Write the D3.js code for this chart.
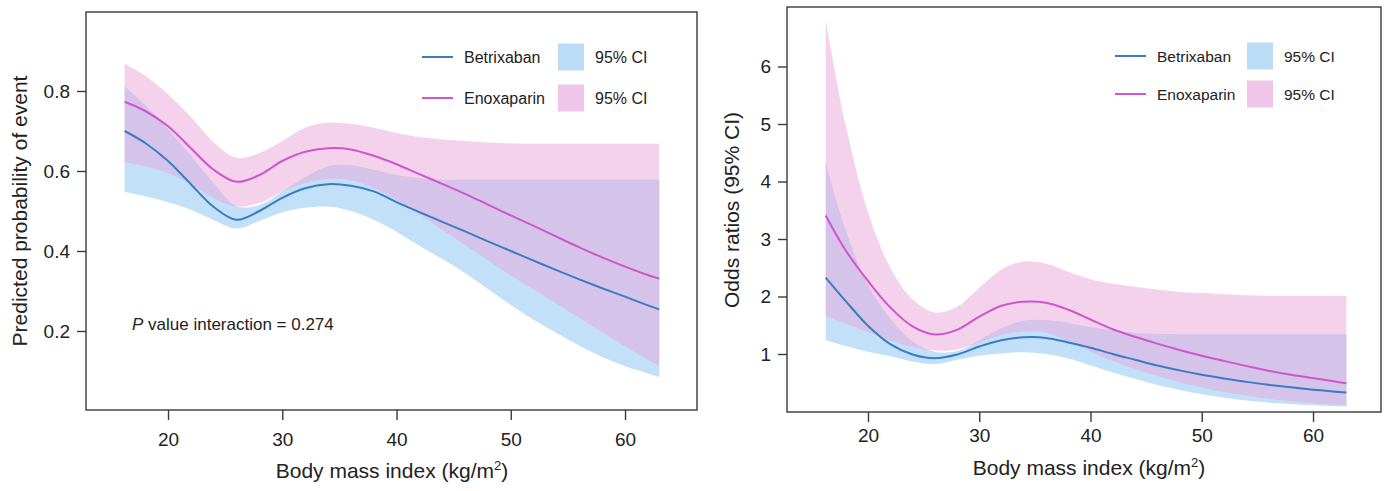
<!DOCTYPE html>
<html>
<head>
<meta charset="utf-8">
<script src="https://cdn.jsdelivr.net/npm/d3@7"></script>
<style>
  html, body { margin: 0; padding: 0; background: #fff; }
  svg { display: block; font-family: "Liberation Sans", Arial, Helvetica, sans-serif; }
</style>
</head>
<body>
<svg id="chart" width="1388" height="491"></svg>
<script>
// ---------- data ----------
const bmi = [16.2, 18, 20, 22, 24, 26, 28, 30, 32, 34, 36, 38, 40, 42, 44, 46, 48, 50, 52, 54, 56, 58, 60, 62, 63];

// Left panel: predicted probability of event
const probBetrixaban   = [0.700,0.670,0.625,0.567,0.510,0.478,0.500,0.533,0.557,0.567,0.563,0.549,0.522,0.497,0.473,0.449,0.424,0.400,0.376,0.352,0.329,0.307,0.286,0.264,0.254];
const probBetrixabanLo = [0.548,0.537,0.522,0.503,0.477,0.456,0.475,0.497,0.508,0.511,0.500,0.478,0.448,0.413,0.380,0.345,0.305,0.265,0.228,0.195,0.163,0.135,0.112,0.094,0.085];
const probBetrixabanHi = [0.812,0.765,0.705,0.638,0.570,0.512,0.515,0.548,0.585,0.612,0.615,0.603,0.590,0.582,0.578,0.578,0.578,0.578,0.578,0.578,0.578,0.578,0.578,0.578,0.578];
const probEnoxaparin   = [0.773,0.750,0.712,0.657,0.603,0.573,0.590,0.625,0.648,0.657,0.654,0.638,0.617,0.592,0.568,0.543,0.516,0.489,0.463,0.436,0.409,0.384,0.361,0.340,0.331];
const probEnoxaparinLo = [0.622,0.612,0.595,0.567,0.532,0.511,0.520,0.548,0.570,0.580,0.577,0.558,0.528,0.492,0.453,0.415,0.377,0.339,0.304,0.269,0.233,0.197,0.162,0.128,0.113];
const probEnoxaparinHi = [0.869,0.838,0.792,0.735,0.672,0.633,0.645,0.675,0.708,0.721,0.718,0.708,0.695,0.685,0.679,0.675,0.671,0.669,0.668,0.668,0.668,0.668,0.668,0.668,0.668];

// Right panel: odds ratios (95% CI)
const orBetrixaban   = [2.33,1.92,1.49,1.17,0.99,0.925,0.99,1.13,1.24,1.29,1.28,1.20,1.11,1.00,0.90,0.80,0.715,0.64,0.575,0.515,0.465,0.42,0.38,0.345,0.33];
const orBetrixabanLo = [1.24,1.14,1.04,0.96,0.87,0.82,0.90,0.97,1.01,1.03,1.00,0.92,0.80,0.68,0.57,0.46,0.375,0.30,0.24,0.19,0.155,0.128,0.107,0.091,0.083];
const orBetrixabanHi = [4.32,3.15,2.20,1.62,1.22,1.04,1.05,1.24,1.45,1.58,1.59,1.54,1.47,1.41,1.37,1.35,1.345,1.345,1.345,1.345,1.345,1.345,1.345,1.345,1.345];
const orEnoxaparin   = [3.41,2.80,2.27,1.81,1.48,1.34,1.42,1.65,1.84,1.91,1.89,1.77,1.60,1.43,1.30,1.18,1.07,0.97,0.88,0.79,0.71,0.64,0.58,0.52,0.49];
const orEnoxaparinLo = [1.66,1.52,1.38,1.24,1.12,1.06,1.08,1.20,1.33,1.39,1.37,1.22,1.04,0.88,0.74,0.62,0.51,0.42,0.34,0.28,0.225,0.18,0.145,0.12,0.113];
const orEnoxaparinHi = [6.81,4.98,3.47,2.50,1.95,1.72,1.82,2.15,2.47,2.61,2.57,2.43,2.30,2.22,2.17,2.12,2.08,2.06,2.04,2.02,2.01,2.01,2.01,2.01,2.01];

const xTicks = [20, 30, 40, 50, 60];
const probTicks = [0.2, 0.4, 0.6, 0.8];
const orTicks = [1, 2, 3, 4, 5, 6];

const seriesNames = ["Betrixaban", "Enoxaparin"];
const ciLabel = "95% CI";
const xTitle = "Body mass index (kg/m";
const leftYTitle = "Predicted probability of event";
const rightYTitle = "Odds ratios (95% CI)";
const annotation = { italic: "P", rest: " value interaction = 0.274" };

// ---------- styles ----------
const colors = {
  betLine: "#3a7cc0",
  enoLine: "#cf55cf",
  betBand: "#a8d4f5",
  enoBand: "#e9a6d9",
  betSwatch: "#bcdcf6",
  enoSwatch: "#efc6e9"
};

const svg = d3.select("#chart");
const curve = d3.curveCatmullRom.alpha(0.5);

function drawPanel(cfg) {
  const g = svg.append("g");
  const x = d3.scaleLinear().domain(cfg.xDomain).range([cfg.left, cfg.right]);
  const y = d3.scaleLinear().domain(cfg.yDomain).range([cfg.bottom, cfg.top]);

  const area = (lo, hi) => d3.area()
    .x((d, i) => x(bmi[i])).y0((d, i) => y(lo[i])).y1((d, i) => y(hi[i]))
    .curve(curve)(bmi);
  const line = (v) => d3.line()
    .x((d, i) => x(bmi[i])).y((d, i) => y(v[i]))
    .curve(curve)(bmi);

  g.append("path").attr("d", area(cfg.betLo, cfg.betHi)).attr("fill", colors.betBand).attr("fill-opacity", 0.7);
  g.append("path").attr("d", area(cfg.enoLo, cfg.enoHi)).attr("fill", colors.enoBand).attr("fill-opacity", 0.5);
  g.append("path").attr("d", line(cfg.eno)).attr("fill", "none").attr("stroke", colors.enoLine).attr("stroke-width", 2);
  g.append("path").attr("d", line(cfg.bet)).attr("fill", "none").attr("stroke", colors.betLine).attr("stroke-width", 2);

  // frame
  g.append("rect").attr("x", cfg.left).attr("y", cfg.top)
    .attr("width", cfg.right - cfg.left).attr("height", cfg.bottom - cfg.top)
    .attr("fill", "none").attr("stroke", "#3a3a3a").attr("stroke-width", 1.4);

  // axes
  const xa = g.append("g").attr("transform", `translate(0,${cfg.bottom})`)
    .call(d3.axisBottom(x).tickValues(xTicks).tickSize(10).tickPadding(cfg.xPad).tickFormat(d3.format("d")));
  const ya = g.append("g").attr("transform", `translate(${cfg.left},0)`)
    .call(d3.axisLeft(y).tickValues(cfg.yTicks).tickSize(9).tickPadding(7).tickFormat(cfg.yFormat));
  [xa, ya].forEach(a => {
    a.select(".domain").remove();
    a.selectAll("line").attr("stroke", "#3a3a3a").attr("stroke-width", 1.4);
    a.selectAll("text").attr("font-size", 19).attr("fill", "#222")
      .attr("font-family", "'Liberation Sans', Arial, sans-serif");
  });

  // titles
  const xt = g.append("text").attr("x", cfg.xTitleX).attr("y", cfg.xTitleY)
    .attr("text-anchor", "middle").attr("font-size", 21).attr("fill", "#222");
  xt.append("tspan").text(xTitle);
  xt.append("tspan").text("2").attr("font-size", 13).attr("dy", -8);
  xt.append("tspan").text(")").attr("dy", 8);

  g.append("text").attr("transform", `translate(${cfg.yTitleX},${cfg.yTitleY}) rotate(-90)`)
    .attr("text-anchor", "middle").attr("font-size", 21).attr("fill", "#222").text(cfg.yTitle);

  // legend
  const L = cfg.legend;
  const rows = [
    { name: seriesNames[0], line: colors.betLine, sw: colors.betSwatch },
    { name: seriesNames[1], line: colors.enoLine, sw: colors.enoSwatch }
  ];
  rows.forEach((r, i) => {
    const cy = L.y + i * L.dy;
    g.append("line").attr("x1", L.x).attr("x2", L.x + 31).attr("y1", cy).attr("y2", cy)
      .attr("stroke", r.line).attr("stroke-width", 2);
    g.append("text").attr("x", L.x + 42).attr("y", cy + 5.5).attr("font-size", L.fs).attr("fill", "#222").text(r.name);
    g.append("rect").attr("x", L.sx).attr("y", cy - 13.5).attr("width", 26).attr("height", 27).attr("fill", r.sw);
    g.append("text").attr("x", L.sx + 37).attr("y", cy + 5.5).attr("font-size", L.fs).attr("fill", "#222").text(ciLabel);
  });
  return g;
}

const left = drawPanel({
  left: 86, right: 697, top: 12, bottom: 410,
  xDomain: [12.82, 66.30], yDomain: [0.0025, 0.9975],
  yTicks: probTicks, yFormat: d3.format(".1f"), xPad: 13,
  bet: probBetrixaban, betLo: probBetrixabanLo, betHi: probBetrixabanHi,
  eno: probEnoxaparin, enoLo: probEnoxaparinLo, enoHi: probEnoxaparinHi,
  xTitleX: 392, xTitleY: 478, yTitleX: 27, yTitleY: 211, yTitle: leftYTitle,
  legend: { x: 422, y: 57, dy: 41, sx: 558, fs: 16 }
});

const annot = left.append("text").attr("x", 132).attr("y", 330).attr("font-size", 17).attr("fill", "#222");
annot.append("tspan").attr("font-style", "italic").text(annotation.italic);
annot.append("tspan").text(annotation.rest);

drawPanel({
  left: 787, right: 1381, top: 7, bottom: 412,
  xDomain: [12.72, 66.11], yDomain: [-0.009, 7.035],
  yTicks: orTicks, yFormat: d3.format("d"), xPad: 7,
  bet: orBetrixaban, betLo: orBetrixabanLo, betHi: orBetrixabanHi,
  eno: orEnoxaparin, enoLo: orEnoxaparinLo, enoHi: orEnoxaparinHi,
  xTitleX: 1089, xTitleY: 475, yTitleX: 739, yTitleY: 210, yTitle: rightYTitle,
  legend: { x: 1115, y: 56, dy: 38, sx: 1247, fs: 15.5 }
});
</script>
</body>
</html>
